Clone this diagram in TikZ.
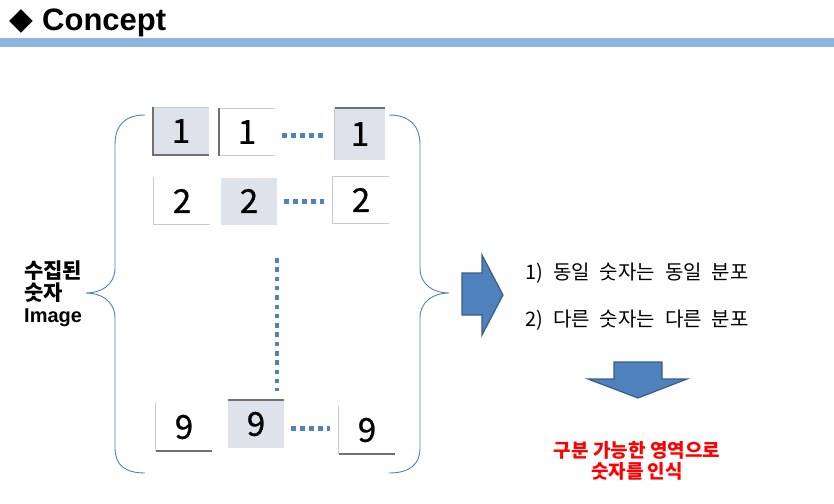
\documentclass[tikz,border=0pt]{standalone}
\usepackage{fontspec}
\setmainfont{Liberation Sans}
\newfontfamily\krfont{Noto Sans CJK KR}
\newfontfamily\digitfont[FakeBold=0.8]{Noto Sans CJK KR}
\newfontfamily\symfont{DejaVu Sans}
\usetikzlibrary{positioning,calc}
\definecolor{cbar}{HTML}{8DB3E2}
\definecolor{cfill}{HTML}{DEE3EB}
\definecolor{cblue}{HTML}{4F81BD}
\definecolor{cedge}{HTML}{385D8A}
\definecolor{cdark}{HTML}{707070}
\definecolor{clight}{HTML}{C6CAD0}
\definecolor{cred}{HTML}{FF0000}
\tikzset{
  cellw/.style={minimum width=56pt,minimum height=47pt,inner sep=0pt,font=\digitfont\fontsize{33}{33}\selectfont},
  cellf/.style={cellw,fill=cfill},
  darkedge/.style={draw=cdark,line width=2pt},
  lightedge/.style={draw=clight,line width=1pt},
  dotrow/.style={draw=cblue,line width=5pt,dash pattern=on 5pt off 4pt,shorten <=7pt,shorten >=9pt},
  dotcol/.style={draw=cblue,line width=4.5pt,dash pattern=on 4.5pt off 4.8pt},
  brace/.style={draw=cblue,line width=0.9pt},
  blockarr/.style={fill=cblue,draw=cedge,line width=1.2pt,line join=miter},
  krtxt/.style={font=\krfont\fontsize{20}{22}\selectfont,anchor=west,inner sep=0pt},
}
\newcommand{\gap}{\hspace{10pt}}

\begin{document}
\begin{tikzpicture}[x=1pt,y=-1pt]
  \useasboundingbox (0,0) rectangle (834,503);
  % title
  \node[font=\symfont\fontsize{31}{31}\selectfont,inner sep=0pt] (mark) at (21,21) {◆};
  \node[font=\bfseries\fontsize{31}{31}\selectfont,anchor=base west,inner sep=0pt] (title) at (42,31) {Concept};
  \fill[cbar] (0,38) rectangle (834,47);
  % digit cells
  \node[cellf] (c11) at (181,131) {1};
  \node[cellw] (c12) at (247,132) {1};
  \node[cellf,minimum width=50pt,minimum height=52pt] (c13) at (360,134) {1};
  \node[cellw] (c21) at (182,201) {2};
  \node[cellf] (c22) at (249,201) {2};
  \node[cellw] (c23) at (361,200) {2};
  \node[cellw] (c31) at (184,427) {9};
  \node[cellf] (c32) at (256,424) {9};
  \node[cellw] (c33) at (367,430) {9};
  % cell edges
  \draw[lightedge] (c11.north west) -- (c11.north east);
  \draw[darkedge] (c11.north west) -- (c11.south west) -- (c11.south east);
  \draw[lightedge] (c12.south west) -- (c12.south east);
  \draw[lightedge] (c12.north west) -- (c12.north east);
  \draw[darkedge] (c12.north west) -- (c12.south west);
  \draw[lightedge] (c13.north west) -- (c13.south west);
  \draw[darkedge] (c13.north west) -- (c13.north east);
  \draw[lightedge] (c21.north west) -- (c21.south west) -- (c21.south east);
  \draw[lightedge] (c23.north east) -- (c23.north west) -- (c23.south west) -- (c23.south east);
  \draw[lightedge] (c31.north west) -- (c31.south west);
  \draw[darkedge] (c31.south west) -- (c31.south east);
  \draw[darkedge] (c32.north west) -- (c32.north east);
  \draw[lightedge] (c33.north west) -- (c33.south west);
  \draw[darkedge] (c33.south west) -- (c33.south east);
  % dotted runs
  \foreach \r/\dy in {1/3,2/0,3/4}
    \draw[dotrow] ($(c\r2.east)+(0,\dy)$) -- ($(c\r2.east -| c\r3.west)+(0,\dy)$);
  \coordinate (vtop) at (277,258);
  \draw[dotcol] (vtop) -- ($(vtop |- c32.north)+(0,-9)$);
  % braces
  \draw[brace] (145,115) .. controls (125,115) and (115,125) .. (115,145) -- (115,268)
    .. controls (115,285) and (101,293) .. (86,293) .. controls (101,293) and (115,301) .. (115,318)
    -- (115,448) .. controls (115,465) and (125,473) .. (145,473);
  \draw[brace] (389,115) .. controls (409,115) and (420,125) .. (420,145) -- (420,268)
    .. controls (420,285) and (434,293) .. (449,293) .. controls (434,293) and (420,301) .. (420,318)
    -- (420,448) .. controls (420,465) and (409,473) .. (389,473);
  % left label
  \node[anchor=north west,align=left,inner sep=0pt,font=\bfseries\fontsize{20}{22}\selectfont] (lbl) at (24,261)
    {{\krfont\fontsize{21}{22}\selectfont 수집된}\\{\krfont\fontsize{21}{22}\selectfont 숫자}\\Image};
  % arrows
  \draw[blockarr] (462,273) -- (482,273) -- (482,255) -- (503,295) -- (482,335) -- (482,315) -- (462,315) -- cycle;
  \draw[blockarr] (614,362) -- (662,362) -- (662,379) -- (687,379) -- (638,398) -- (588,379) -- (614,379) -- cycle;
  % texts
  \node[krtxt] (same) at (525,273) {1)\gap 동일\gap 숫자는\gap 동일\gap 분포};
  \node[krtxt] (diff) at (525,320) {2)\gap 다른\gap 숫자는\gap 다른\gap 분포};
  \node[align=center,text=cred,inner sep=0pt,font=\krfont\bfseries\fontsize{19}{21}\selectfont] (result) at (637,461)
    {구분 가능한 영역으로\\숫자를 인식};
\end{tikzpicture}
\end{document}
